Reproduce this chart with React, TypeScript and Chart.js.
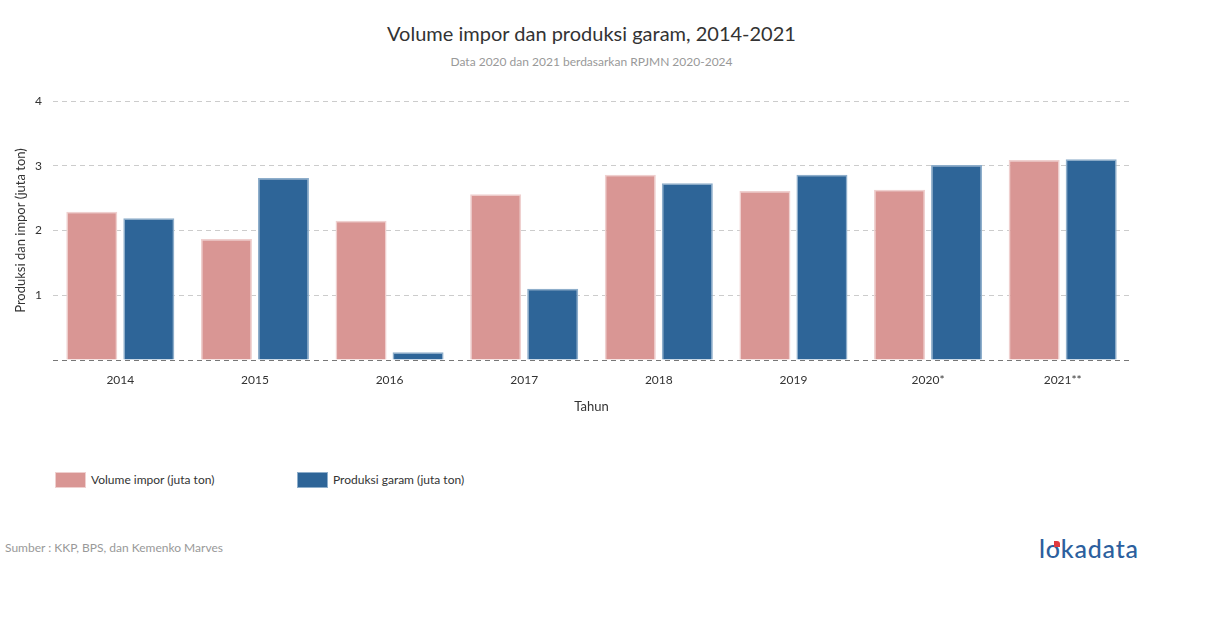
import React, { useEffect, useRef } from 'react';
import { Chart, registerables } from 'chart.js';

Chart.register(...registerables);

const titleText = 'Volume impor dan produksi garam, 2014-2021';
const subtitleText = 'Data 2020 dan 2021 berdasarkan RPJMN 2020-2024';
const years = ['2014', '2015', '2016', '2017', '2018', '2019', '2020*', '2021**'];
const imporValues = [2.29, 1.87, 2.15, 2.56, 2.86, 2.61, 2.63, 3.09];
const produksiValues = [2.19, 2.81, 0.12, 1.1, 2.73, 2.86, 3.01, 3.1];
const seriesLabels = ['Volume impor (juta ton)', 'Produksi garam (juta ton)'];
const yAxisTitle = 'Produksi dan impor (juta ton)';
const xAxisTitle = 'Tahun';
const sourceText = 'Sumber : KKP, BPS, dan Kemenko Marves';

const PINK = '#d99694';
const PINK_BORDER = '#efd0cf';
const BLUE = '#2e6598';
const BLUE_BORDER = '#8eaecb';
const FONT = 'Lato, "Noto Sans", sans-serif';

const zeroLinePlugin = {
  id: 'zeroLine',
  afterDatasetsDraw(chart: any) {
    const { ctx, chartArea, scales } = chart;
    const y = Math.round(scales.y.getPixelForValue(0)) + 0.5;
    ctx.save();
    ctx.strokeStyle = '#777777';
    ctx.lineWidth = 1;
    ctx.setLineDash([5, 4]);
    ctx.beginPath();
    ctx.moveTo(chartArea.left, y);
    ctx.lineTo(chartArea.right, y);
    ctx.stroke();
    ctx.restore();
  },
};

export default function App() {
  const ref = useRef<HTMLCanvasElement | null>(null);

  useEffect(() => {
    if (!ref.current) return;
    Chart.defaults.font.family = FONT;
    const chart = new Chart(ref.current, {
      type: 'bar',
      data: {
        labels: years,
        datasets: [
          {
            label: seriesLabels[0],
            data: imporValues,
            backgroundColor: PINK,
            borderColor: PINK_BORDER,
            borderWidth: 1.5,
            categoryPercentage: 0.847,
            barPercentage: 0.895,
          },
          {
            label: seriesLabels[1],
            data: produksiValues,
            backgroundColor: BLUE,
            borderColor: BLUE_BORDER,
            borderWidth: 1.5,
            categoryPercentage: 0.847,
            barPercentage: 0.895,
          },
        ],
      },
      plugins: [zeroLinePlugin],
      options: {
        responsive: false,
        animation: false,
        devicePixelRatio: 1,
        layout: { padding: { left: 8, top: 101, right: 80, bottom: 11 } },
        plugins: {
          legend: { display: false },
          tooltip: { enabled: false },
          title: { display: false },
        },
        scales: {
          x: {
            grid: { display: false, drawTicks: false },
            border: { display: false },
            ticks: { color: '#333333', font: { size: 12, family: FONT }, padding: 13, maxRotation: 0 },
            title: {
              display: true,
              text: xAxisTitle,
              color: '#333333',
              font: { size: 13, family: FONT },
              padding: { top: 0, bottom: 4 },
            },
            afterFit: (scale: any) => {
              scale.height = 59;
            },
          },
          y: {
            min: 0,
            max: 4,
            grid: {
              drawTicks: false,
              color: (ctx: any) => (ctx.tick && ctx.tick.value === 0 ? 'rgba(0,0,0,0)' : '#cccccc'),
              lineWidth: 1,
            },
            border: { display: false, dash: [5, 4] },
            ticks: {
              stepSize: 1,
              color: '#333333',
              font: { size: 12, family: FONT },
              padding: 11,
              callback: (v: any) => (v === 0 ? '' : String(v)),
            },
            title: {
              display: true,
              text: yAxisTitle,
              color: '#333333',
              font: { size: 13, family: FONT },
              padding: { top: 5, bottom: 0 },
            },
            afterFit: (scale: any) => {
              scale.width = 45;
            },
          },
        },
      },
    });
    return () => chart.destroy();
  }, []);

  const swatch = (bg: string, border: string) => ({
    position: 'absolute' as const,
    width: 31,
    height: 16,
    background: bg,
    border: `1.5px solid ${border}`,
    boxSizing: 'border-box' as const,
  });

  return (
    <div style={{ position: 'absolute', left: 0, top: 0, width: 1210, height: 628, background: '#fff', fontFamily: FONT, overflow: 'hidden' }}>
      <div style={{ position: 'absolute', left: 53, width: 1077, top: 20, textAlign: 'center', fontSize: 20, color: '#333', lineHeight: '26px' }}>
        {titleText}
      </div>
      <div style={{ position: 'absolute', left: 53, width: 1077, top: 54, textAlign: 'center', fontSize: 12, color: '#999', lineHeight: '16px' }}>
        {subtitleText}
      </div>
      <canvas ref={ref} width={1210} height={430} style={{ position: 'absolute', left: 0, top: 0, width: 1210, height: 430 }} />
      <div style={{ ...swatch(PINK, PINK_BORDER), left: 55, top: 472 }} />
      <div style={{ position: 'absolute', left: 91, top: 472, fontSize: 12, color: '#333', lineHeight: '16px' }}>{seriesLabels[0]}</div>
      <div style={{ ...swatch(BLUE, BLUE_BORDER), left: 297, top: 472 }} />
      <div style={{ position: 'absolute', left: 333, top: 472, fontSize: 12, color: '#333', lineHeight: '16px' }}>{seriesLabels[1]}</div>
      <div style={{ position: 'absolute', left: 5, top: 540, fontSize: 12, color: '#999', lineHeight: '16px' }}>{sourceText}</div>
      <div style={{ position: 'absolute', left: 1039, top: 532, fontSize: 25, color: '#2c5f9e', lineHeight: '32px', fontWeight: 500, letterSpacing: 0.8 }}>
        l<span style={{ position: 'relative' }}>
          o
          <span style={{ position: 'absolute', left: 8, top: 8, width: 6, height: 6, background: '#e03a3e', borderRadius: '0 50% 0 0' }} />
        </span>kadata
      </div>
    </div>
  );
}
